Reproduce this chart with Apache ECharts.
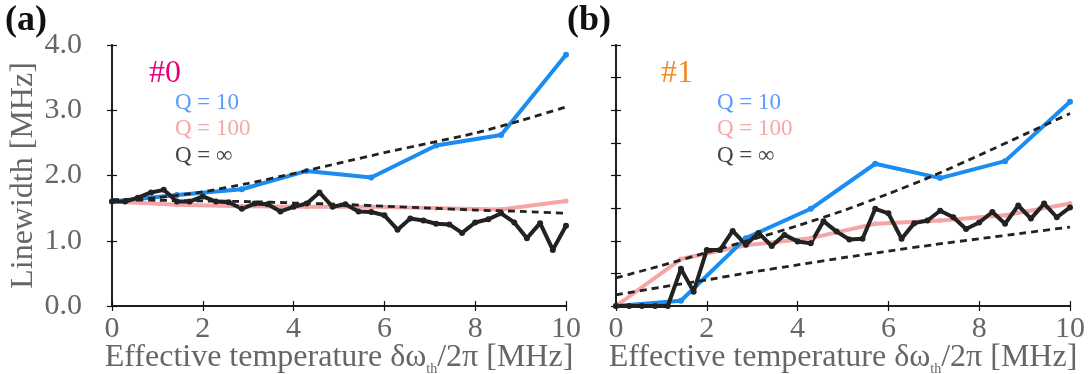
<!DOCTYPE html>
<html>
<head>
<meta charset="utf-8">
<script src="https://cdn.jsdelivr.net/npm/echarts@6/dist/echarts.min.js"></script>
<style>
  html, body { margin: 0; padding: 0; background: #fff; }
  #chart { width: 1089px; height: 374px; }
</style>
</head>
<body>
<div id="chart"></div>
<script>
// x positions of the coarse (Q = 10, Q = 100) and fine (Q = inf) runs
const xCoarse = [0, 1.43, 2.86, 4.29, 5.71, 7.14, 8.57, 10]
const xFine = [0, 0.29, 0.57, 0.86, 1.14, 1.43, 1.71, 2.0, 2.29, 2.57, 2.86, 3.14,
  3.43, 3.71, 4.0, 4.29, 4.57, 4.86, 5.14, 5.43, 5.71, 6.0, 6.29, 6.57,
  6.86, 7.14, 7.43, 7.71, 8.0, 8.29, 8.57, 8.86, 9.14, 9.43, 9.71, 10]
const xFit = [0, 1, 2, 3, 4, 5, 6, 7, 8, 9, 10]

// panel (a) #0
const a_q10 = [1.60, 1.70, 1.79, 2.07, 1.97, 2.46, 2.62, 3.85]
const a_q100 = [1.60, 1.55, 1.53, 1.52, 1.52, 1.50, 1.48, 1.61]
const a_qinf = [1.60, 1.60, 1.66, 1.74, 1.78, 1.60, 1.60, 1.68, 1.60, 1.59, 1.49, 1.57,
  1.56, 1.45, 1.52, 1.57, 1.74, 1.52, 1.56, 1.45, 1.44, 1.39, 1.17, 1.34,
  1.31, 1.26, 1.25, 1.12, 1.28, 1.33, 1.42, 1.28, 1.04, 1.27, 0.86, 1.23]
const a_fitUp = [1.62, 1.66, 1.75, 1.88, 2.03, 2.19, 2.35, 2.50, 2.65, 2.84, 3.05]
const a_fitLow = [1.63, 1.62, 1.61, 1.60, 1.58, 1.56, 1.53, 1.50, 1.47, 1.45, 1.42]

// panel (b) #1
const b_q10 = [0.00, 0.08, 1.04, 1.49, 2.18, 1.96, 2.22, 3.13]
const b_q100 = [0.00, 0.72, 0.93, 1.04, 1.26, 1.31, 1.39, 1.57]
const b_qinf = [0, 0, 0, 0, 0, 0.57, 0.22, 0.86, 0.86, 1.15, 0.94, 1.12,
  0.92, 1.09, 0.99, 0.96, 1.30, 1.14, 1.02, 1.03, 1.49, 1.42, 1.03, 1.27,
  1.31, 1.46, 1.36, 1.18, 1.28, 1.44, 1.26, 1.54, 1.34, 1.57, 1.36, 1.51]
const b_fitUp = [0.43, 0.62, 0.82, 1.02, 1.23, 1.46, 1.72, 2.00, 2.31, 2.63, 2.95]
const b_fitLow = [0.17, 0.29, 0.40, 0.52, 0.63, 0.74, 0.84, 0.94, 1.03, 1.12, 1.21]

const yTicksA = ['0.0', '1.0', '2.0', '3.0', '4.0']

const FONT = 'Liberation Serif'
const GRAY = '#666'
const BLUE = '#1a8cf2'
const PINK = '#f4a6a6'
const BLACK = '#222'

const pair = (xs, ys) => xs.map((x, i) => [x, ys[i]])

// fixed plot boxes, labels may sit outside them
const grids = [
  { left: 112, top: 45, width: 454, height: 261, outerBoundsMode: 'none', containLabel: false },
  { left: 616, top: 45, width: 454, height: 261, outerBoundsMode: 'none', containLabel: false }
]

const xName = 'Effective temperature δω{sub|th}/2π [MHz]'

function bottomX (gi) {
  return {
    gridIndex: gi, type: 'value', min: 0, max: 10, interval: 2, position: 'bottom',
    axisLine: { lineStyle: { color: '#111', width: 1.5 } },
    axisTick: { inside: true, length: 5, lineStyle: { color: '#111', width: 1.2 } },
    splitLine: { show: false },
    axisLabel: { color: GRAY, fontFamily: FONT, fontSize: 30, margin: 8 },
    name: xName, nameLocation: 'middle', nameGap: 33, nameMoveOverlap: false,
    nameTextStyle: {
      color: GRAY, fontFamily: FONT, fontSize: 32,
      rich: { sub: { fontFamily: FONT, fontSize: 14, color: GRAY, verticalAlign: 'bottom', lineHeight: 37 } }
    }
  }
}
function topX (gi) {
  return {
    gridIndex: gi, type: 'value', min: 0, max: 10, interval: 2, position: 'top',
    axisLine: { lineStyle: { color: '#111', width: 1.5 } },
    axisTick: { inside: true, length: 5, lineStyle: { color: '#111', width: 1.2 } },
    axisLabel: { show: false }, splitLine: { show: false }
  }
}
function leftY (gi, interval, labels) {
  return {
    gridIndex: gi, type: 'value', min: 0, max: 4, interval: interval, position: 'left',
    axisLine: { show: true, lineStyle: { color: '#111', width: 1.5 } },
    axisTick: { show: true, inside: true, length: 5, lineStyle: { color: '#111', width: 1.2 } },
    splitLine: { show: false },
    axisLabel: {
      show: labels, color: GRAY, fontFamily: FONT, fontSize: 30, margin: 30,
      formatter: v => yTicksA[Math.round(v)]
    },
    name: labels ? 'Linewidth [MHz]' : '', nameLocation: 'middle', nameGap: 72, nameMoveOverlap: false,
    nameTextStyle: { color: GRAY, fontFamily: FONT, fontSize: 32 }
  }
}
function rightY (gi, interval) {
  return {
    gridIndex: gi, type: 'value', min: 0, max: 4, interval: interval, position: 'right',
    axisLine: { show: true, lineStyle: { color: '#111', width: 1.5 } },
    axisTick: { show: true, inside: true, length: 5, lineStyle: { color: '#111', width: 1.2 } },
    axisLabel: { show: false }, splitLine: { show: false }
  }
}

function dataLine (ai, ys, xs, color, width, sym) {
  return {
    type: 'line', xAxisIndex: ai, yAxisIndex: ai, data: pair(xs, ys),
    symbol: 'circle', symbolSize: sym, showSymbol: true,
    itemStyle: { color: color }, lineStyle: { color: color, width: width },
    silent: true, animation: false, z: 3
  }
}
function fitLine (ai, ys) {
  return {
    type: 'line', xAxisIndex: ai, yAxisIndex: ai, data: pair(xFit, ys),
    showSymbol: false, smooth: 0.2,
    lineStyle: { color: BLACK, width: 2.8, type: [7, 5] },
    silent: true, animation: false, z: 5
  }
}

function txt (left, top, text, color, size, weight) {
  return {
    type: 'text', left: left, top: top,
    style: { text: text, fill: color, fontFamily: FONT, fontSize: size, fontWeight: weight || 'normal' }
  }
}

const chart = echarts.init(document.getElementById('chart'))
chart.setOption({
  backgroundColor: '#fff',
  animation: false,
  grid: grids,
  xAxis: [bottomX(0), topX(0), bottomX(1), topX(1)],
  yAxis: [leftY(0, 1, true), rightY(0, 1), leftY(1, 0.5, false), rightY(1, 0.5)],
  series: [
    dataLine(0, a_q100, xCoarse, PINK, 4, 5),
    dataLine(0, a_q10, xCoarse, BLUE, 4, 6),
    dataLine(0, a_qinf, xFine, BLACK, 4, 6),
    fitLine(0, a_fitUp),
    fitLine(0, a_fitLow),
    // panel (b): axis index 2 is the bottom x / left y of grid 1
    dataLine(2, b_q100, xCoarse, PINK, 4, 5),
    dataLine(2, b_q10, xCoarse, BLUE, 4, 6),
    dataLine(2, b_qinf, xFine, BLACK, 4, 6),
    fitLine(2, b_fitUp),
    fitLine(2, b_fitLow)
  ],
  graphic: [
    txt(5, 3, '(a)', '#111', 36, 'bold'),
    txt(567, 3, '(b)', '#111', 36, 'bold'),
    txt(149, 58, '#0', '#e6007e', 32),
    txt(175, 91, 'Q = 10', '#5b9bff', 23),
    txt(175, 117, 'Q = 100', '#f5a8a8', 23),
    txt(175, 144, 'Q = ∞', '#444', 23),
    txt(661, 58, '#1', '#f08a2c', 32),
    txt(717, 91, 'Q = 10', '#5b9bff', 23),
    txt(717, 117, 'Q = 100', '#f5a8a8', 23),
    txt(717, 144, 'Q = ∞', '#444', 23)
  ]
})
</script>
</body>
</html>
